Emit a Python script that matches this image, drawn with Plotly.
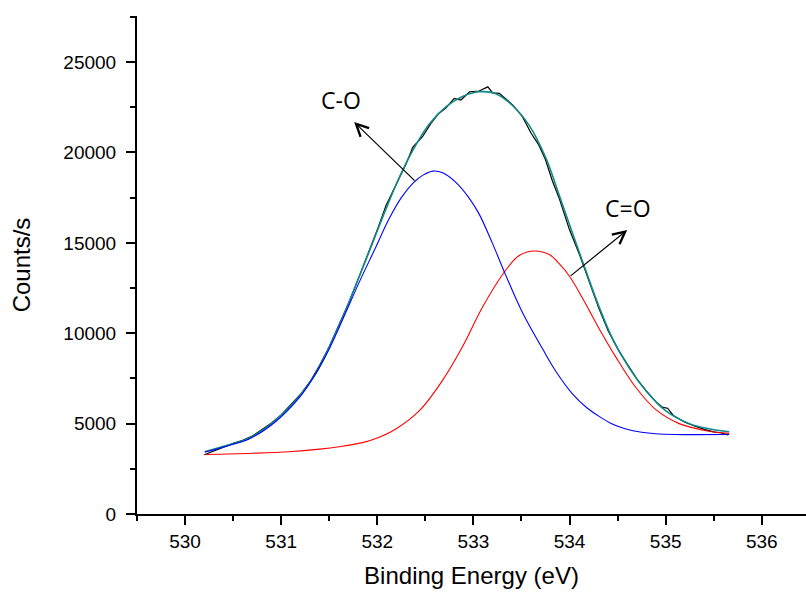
import plotly.graph_objects as go

# Raw spectrum (black)
raw_x = [530.20, 530.30, 530.40, 530.50, 530.60, 530.70, 530.80, 530.90, 531.00, 531.10,
         531.20, 531.30, 531.40, 531.50, 531.60, 531.70, 531.80, 531.90, 532.00, 532.09,
         532.20, 532.30, 532.37, 532.47, 532.56, 532.64, 532.71, 532.80, 532.87, 532.96,
         533.06, 533.15, 533.20, 533.27, 533.41, 533.51, 533.60, 533.68, 533.75, 533.82,
         533.89, 534.00, 534.10, 534.20, 534.30, 534.40, 534.50, 534.60, 534.70, 534.80,
         534.90, 534.97, 535.02, 535.08, 535.20, 535.30, 535.40, 535.50, 535.58, 535.65]
raw_y = [3280, 3500, 3730, 3910, 4080, 4310, 4670, 5030, 5480, 6030,
         6610, 7320, 8230, 9250, 10440, 11640, 12980, 14320, 15720, 17050,
         18280, 19380, 20300, 20870, 21620, 22160, 22440, 22990, 22900, 23360,
         23400, 23630, 23300, 23270, 22620, 21980, 21060, 20420, 19600, 18450,
         17500, 15720, 14400, 12950, 11450, 10150, 9150, 8300, 7480, 6800,
         6200, 5900, 5850, 5450, 5080, 4870, 4680, 4540, 4480, 4370]

# Cumulative fit (teal)
env_x = [530.205, 530.40, 530.55, 530.666, 530.80, 530.944, 531.186, 531.360, 531.533, 531.672,
         531.811, 531.949, 532.088, 532.227, 532.365, 532.539, 532.713, 532.886, 533.059, 533.233,
         533.406, 533.580, 533.753, 533.892, 534.030, 534.170, 534.308, 534.446, 534.620, 534.794,
         535.002, 535.245, 535.450, 535.661]
env_y = [3446, 3740, 3970, 4187, 4620, 5199, 6488, 7782, 9624, 11283,
         13125, 14972, 16850, 18600, 20080, 21560, 22520, 23100, 23358, 23250,
         22600, 21500, 19700, 17650, 15550, 13450, 11450, 9720, 8080, 6820,
         5700, 5000, 4720, 4552]

# C-O component (blue)
co_x = [530.205, 530.45, 530.666, 530.944, 531.186, 531.36, 531.50, 531.65, 531.81, 531.97,
        532.12, 532.25, 532.38, 532.48, 532.58, 532.68, 532.817, 532.95, 533.06, 533.198,
        533.337, 533.51, 533.718, 533.857, 534.03, 534.18, 534.308, 534.45, 534.586, 534.75,
        534.898, 535.10, 535.30, 535.661]
co_y = [3429, 3780, 4150, 5120, 6420, 7760, 9130, 10880, 12800, 14600,
        16300, 17500, 18350, 18760, 18971, 18880, 18350, 17520, 16590, 14972,
        13200, 11150, 9150, 7900, 6650, 5880, 5400, 4960, 4700, 4520,
        4440, 4400, 4390, 4400]

# C=O component (red)
cdo_x = [530.205, 530.70, 531.082, 531.40, 531.602, 531.845, 532.02, 532.193, 532.435, 532.677,
         532.886, 533.094, 533.337, 533.476, 533.632, 533.788, 533.892, 533.996, 534.134, 534.308,
         534.482, 534.690, 534.898, 535.140, 535.418, 535.661]
cdo_y = [3290, 3360, 3446, 3590, 3722, 3950, 4250, 4700, 5700, 7380,
         9250, 11440, 13500, 14300, 14547, 14350, 13850, 13180, 11950, 10250,
         8680, 7000, 5770, 5000, 4610, 4463]

labels = ["C-O", "C=O"]
label_pos = [(531.62, 22900), (534.61, 16925)]
arrow_tail = [(532.404, 18363), (533.996, 13108)]
arrow_head = [(531.759, 21681), (534.60, 15708)]

fig = go.Figure()
fig.add_trace(go.Scatter(x=raw_x, y=raw_y, mode="lines",
                         line=dict(color="#000000", width=1.2)))
fig.add_trace(go.Scatter(x=env_x, y=env_y, mode="lines", line_shape="spline",
                         line=dict(color="#108a8a", width=1.6)))
fig.add_trace(go.Scatter(x=cdo_x, y=cdo_y, mode="lines", line_shape="spline",
                         line=dict(color="#ff0000", width=1.1)))
fig.add_trace(go.Scatter(x=co_x, y=co_y, mode="lines", line_shape="spline",
                         line=dict(color="#0000ff", width=1.1)))

for lab, (tx, ty), (hx, hy), (sx, sy) in zip(labels, label_pos, arrow_head, arrow_tail):
    fig.add_annotation(x=tx, y=ty, text=lab, showarrow=False,
                       font=dict(family="Open Sans", size=23, color="black"))
    fig.add_annotation(x=hx, y=hy, ax=sx, ay=sy, axref="x", ayref="y", text="",
                       showarrow=True, arrowhead=5, arrowsize=2, arrowwidth=1.2,
                       arrowcolor="black", standoff=0, startstandoff=0)

axis_common = dict(showline=True, linecolor="black", linewidth=2, ticks="outside",
                   ticklen=9, tickwidth=1.5, tickcolor="black", showgrid=False,
                   zeroline=False, mirror=False,
                   tickfont=dict(family="Liberation Sans", size=19, color="black"))

fig.update_layout(
    width=806, height=594,
    margin=dict(l=137, r=0, t=16, b=80),
    plot_bgcolor="white", paper_bgcolor="white",
    showlegend=False,
    xaxis=dict(range=[529.5, 536.46], tick0=530, dtick=1,
               minor=dict(ticks="outside", ticklen=5, tickwidth=1.5, tickcolor="black",
                          tick0=529.5, dtick=0.5),
               title=dict(text="Binding Energy (eV)", standoff=16,
                          font=dict(family="Liberation Sans", size=24, color="black")),
               **axis_common),
    yaxis=dict(range=[0, 27550], tick0=0, dtick=5000, tickformat="d",
               minor=dict(ticks="outside", ticklen=5, tickwidth=1.5, tickcolor="black",
                          tick0=0, dtick=2500),
               ticklabelstandoff=6,
               title=dict(text="Counts/s", standoff=26,
                          font=dict(family="Liberation Sans", size=24, color="black")),
               **axis_common),
)

fig.write_html("out.html")
